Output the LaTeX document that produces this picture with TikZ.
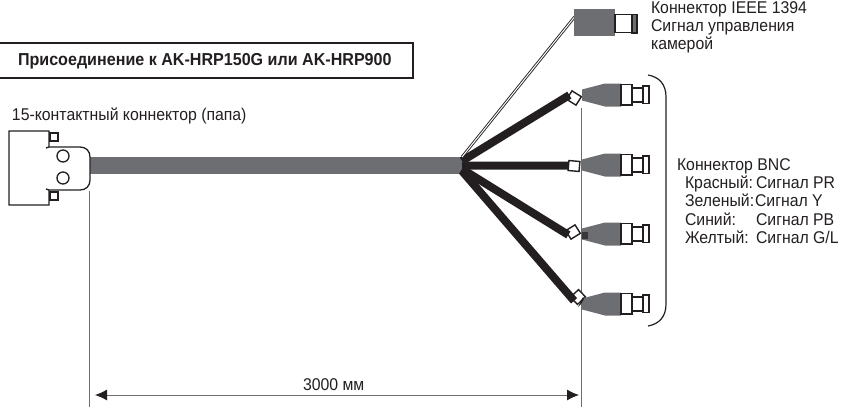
\documentclass[tikz,border=0pt]{standalone}
\usepackage{fontspec}
\setmainfont[FakeStretch=0.93]{Liberation Sans}
\usetikzlibrary{arrows.meta}
\definecolor{inkk}{HTML}{231F20}
\definecolor{bodyg}{HTML}{6D6E71}
\tikzset{
  every node/.style={font=\fontsize{17}{18}\selectfont,text=inkk,inner sep=0pt,outer sep=0pt},
  lbl/.style={anchor=base west},
  part/.style={draw=inkk,line width=1.3pt,fill=white},
  wire/.style={draw=inkk,line width=8pt},
  grayp/.style={fill=bodyg,draw=none},
  grommet/.style={draw=inkk,line width=1.4pt,fill=white,minimum width=11pt,minimum height=10pt},
  extl/.style={draw=bodyg,line width=0.7pt}
}
\newcommand{\bncbody}[1]{%
\begin{scope}[shift={(0,#1)}]
  \path[grayp] (582,-5.5)--(605,-11.5)--(621,-11.5)--(621,11.5)--(605,11.5)--(582,5.5)--cycle;
  \path[part] (621,-10.5) rectangle (632,10);
  \path[part] (632,-7) rectangle (643,7);
  \path[part] (643,-9) rectangle (649,8.5);
\end{scope}}
\begin{document}
\begin{tikzpicture}[x=1pt,y=-1pt]
\useasboundingbox (0,0) rectangle (845,407);
% title box
\node[draw=inkk,line width=1.3pt,fill=white,anchor=north west,minimum width=415pt,minimum height=35pt] (titlebox) at (-2,43) {};
\node[lbl,font=\fontsize{17.3}{18}\selectfont\bfseries] (titletext) at (18,65) {Присоединение к AK-HRP150G или AK-HRP900};
\node[lbl] (plug) at (12,120) {15-контактный коннектор (папа)};
% main cable
\coordinate (hub) at (462,165.5);
\path[grayp] (89,157) rectangle (462,174);
% D-sub connector
\path[part] (9,131)--(49,131)--(49,147)--(46,148)--(49,147)--(80,147)
  .. controls (86,147) and (90,151) .. (90,157)--(90,180)
  .. controls (90,186) and (86,190) .. (80,190)--(49,190)--(46,189)--(49,190)--(49,205)--(9,205)--cycle;
\node[part,minimum width=8pt,minimum height=8pt] (scrta) at (54,137) {};
\node[part,minimum width=8pt,minimum height=8pt] (scrtb) at (54,196) {};
\node[part,circle,minimum size=12pt] (pina) at (63,156) {};
\node[part,circle,minimum size=12pt] (pinb) at (63,178) {};
% dimension
\coordinate (dla) at (89,191); \coordinate (dlb) at (89,407);
\coordinate (dra) at (581,108); \coordinate (drb) at (581,407);
\coordinate (arl) at (95,395); \coordinate (arr) at (579,395);
\draw[extl] (dla)--(dlb);
\draw[extl] (dra)--(drb);
\draw[draw=bodyg,line width=0.9pt,{Latex[length=12pt,width=11pt,color=inkk]}-{Latex[length=12pt,width=11pt,color=inkk]}] (arl)--(arr);
\node[lbl] (dimt) at (303,390) {3000 мм};
% grommets and wires
\node[grommet,rotate=-32] (g1) at (574,98) {};
\node[grommet,rotate=-5] (g2) at (574,166) {};
\node[grommet,rotate=32] (g3) at (573,232) {};
\node[grommet,rotate=44] (g4) at (578,297) {};
\coordinate (h1) at (462,161); \coordinate (h3) at (462,169); \coordinate (h4) at (462,171);
\draw[wire] (h1)--(g1.west);
\draw[wire] (hub)--(g2.west);
\draw[wire] (h3)--(g3.west);
\draw[wire] (h4)--(g4.west);
% IEEE cable
\coordinate (ia) at (462,157); \coordinate (ib) at (574.5,17);
\draw[draw=inkk,line width=2.8pt] (ia)--(ib);
\draw[draw=white,line width=1pt] (ia)--(ib);
% IEEE connector
\path[grayp] (574,9) rectangle (615,36);
\path[part,fill=bodyg] (632,14.5) rectangle (637,33);
\path[part] (615,14.5) rectangle (632,32.5);
% BNC
\bncbody{95}
\bncbody{165}
\bncbody{234}
\bncbody{304}
\path[fill=inkk!70!bodyg] (582,232) rectangle (588,239);
\path[fill=inkk] (583,297)--(578,307)--(581,304)--(584,299)--cycle;
% brace
\coordinate (ba) at (648,75); \coordinate (bb) at (648,326);
\draw[draw=inkk,line width=1.2pt] (ba) .. controls (659,77) and (666,84) .. (666,97)
  -- (666,304) .. controls (666,317) and (659,324) .. (bb);
% labels
\node[lbl] (t1) at (651,13) {Коннектор IEEE 1394};
\node[lbl] (t2) at (651,31) {Сигнал управления};
\node[lbl] (t3) at (651,49) {камерой};
\node[lbl] (b0) at (677,170) {Коннектор BNC};
\node[lbl] (b1) at (685,188) {Красный:};
\node[lbl] (b1v) at (756,188) {Сигнал PR};
\node[lbl] (b2) at (685,206) {Зеленый:};
\node[lbl] (b2v) at (755,206) {Сигнал Y};
\node[lbl] (b3) at (685,225) {Синий:};
\node[lbl] (b3v) at (756,225) {Сигнал PB};
\node[lbl] (b4) at (685,243) {Желтый:};
\node[lbl] (b4v) at (756,243) {Сигнал G/L};
\end{tikzpicture}
\end{document}
